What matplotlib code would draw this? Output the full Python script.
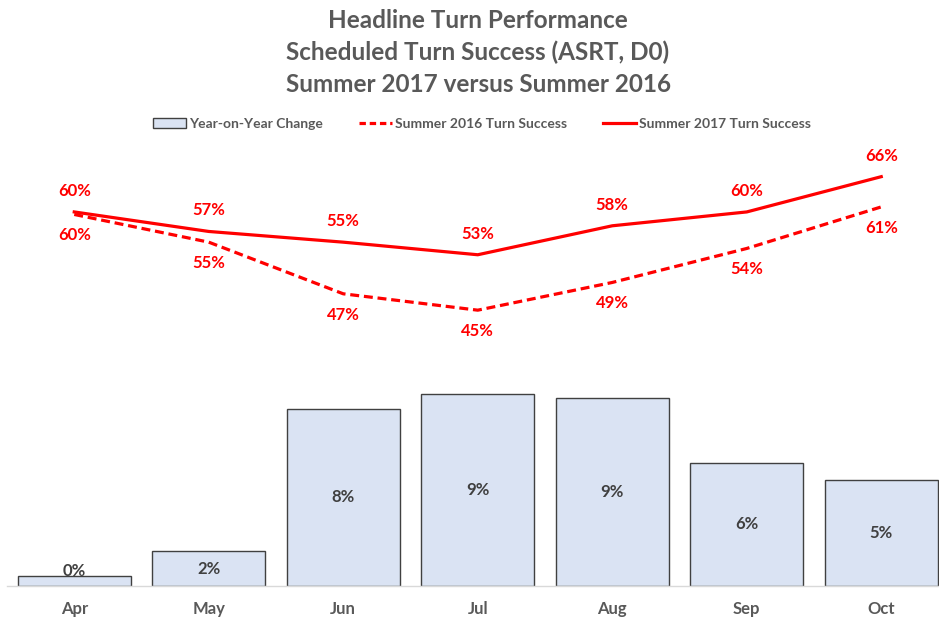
import matplotlib
matplotlib.use("Agg")
import matplotlib.pyplot as plt
from matplotlib.patches import Patch
from matplotlib.lines import Line2D

months = ["Apr", "May", "Jun", "Jul", "Aug", "Sep", "Oct"]
turn_2017 = [60.2, 57.1, 55.4, 53.4, 58.0, 60.2, 65.8]
turn_2016 = [59.8, 55.4, 47.2, 44.6, 49.0, 54.4, 61.0]
yoy_change = [0.45, 1.6, 8.2, 8.9, 8.7, 5.7, 4.9]

plt.rcParams["font.family"] = ["Lato", "DejaVu Sans"]
grey = "#595959"
red = "#ff0000"

fig = plt.figure(figsize=(9.39, 6.21), dpi=100)
ax = fig.add_axes([7 / 939, 35 / 621, 941.5 / 939, 432 / 621])
ax2 = ax.twinx()

x = list(range(len(months)))

# bars (year-on-year change)
ax.bar(x, yoy_change, width=0.84, color="#dae3f3", edgecolor="#404040", linewidth=1.0, zorder=2)
for i, v in enumerate(yoy_change):
    ax.text(i, max(v / 2, 0.7), "{:.0f}%".format(v), ha="center", va="center",
            fontsize=12, fontweight="bold", color="#404040", zorder=3)
ax.set_ylim(0, 20)
ax.set_xlim(-0.5, 6.5)
ax.set_yticks([])
ax.set_xticks(x)
ax.set_xticklabels(months, fontsize=12, fontweight="bold", color=grey)
ax.tick_params(axis="x", length=0, pad=11)
for s in ["top", "left", "right"]:
    ax.spines[s].set_visible(False)
ax.spines["bottom"].set_color("#d9d9d9")
ax.spines["bottom"].set_linewidth(1.0)

# lines (turn success)
ax2.plot(x, turn_2016, color=red, linewidth=2.3, dashes=(2.8, 1.5), dash_capstyle="butt", zorder=4)
ax2.plot(x, turn_2017, color=red, linewidth=2.3, solid_joinstyle="round", zorder=4)
for i in x:
    ax2.annotate("{:.0f}%".format(turn_2017[i]), (i, turn_2017[i]), xytext=(0, 21),
                 textcoords="offset pixels", ha="center", va="center",
                 fontsize=12, fontweight="bold", color=red)
    ax2.annotate("{:.0f}%".format(turn_2016[i]), (i, turn_2016[i]), xytext=(0, -21),
                 textcoords="offset pixels", ha="center", va="center",
                 fontsize=12, fontweight="bold", color=red)
ax2.set_ylim(0.8, 69.4)
ax2.set_yticks([])
for s in ax2.spines.values():
    s.set_visible(False)

# title
fig.text(478 / 939, 1 - 20 / 621, "Headline Turn Performance", ha="center", va="center",
         fontsize=17.5, fontweight="bold", color=grey)
fig.text(478 / 939, 1 - 52 / 621, "Scheduled Turn Success (ASRT, D0)", ha="center", va="center",
         fontsize=17.5, fontweight="bold", color=grey)
fig.text(478 / 939, 1 - 85 / 621, "Summer 2017 versus Summer 2016", ha="center", va="center",
         fontsize=17.5, fontweight="bold", color=grey)

# legend
handles = [
    Patch(facecolor="#dae3f3", edgecolor="#404040", linewidth=1.0),
    Line2D([0], [0], color=red, linewidth=2.3, dashes=(2.0, 1.2)),
    Line2D([0], [0], color=red, linewidth=2.3),
]
labels = ["Year-on-Year Change", "Summer 2016 Turn Success", "Summer 2017 Turn Success"]
fig.legend(handles, labels, loc="center", bbox_to_anchor=(482 / 939, 1 - 124 / 621), ncol=3,
           frameon=False, prop={"size": 10, "weight": "bold"}, labelcolor=grey,
           handlelength=2.4, handleheight=0.7, handletextpad=0.2, columnspacing=2.6)

fig.savefig("out.png", dpi=100)
